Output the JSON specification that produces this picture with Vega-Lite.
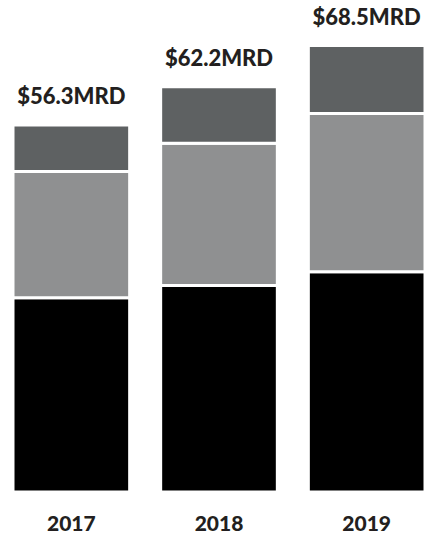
{
  "$schema": "https://vega.github.io/schema/vega-lite/v6.json",
  "autosize": "none",
  "padding": {"left": 13, "top": 0, "right": 0, "bottom": 41},
  "width": 412,
  "height": 492,
  "background": "white",
  "config": {"view": {"stroke": null}},
  "data": {
    "values": [
      {"year": "2017", "segment": "A", "value": 29.8},
      {"year": "2017", "segment": "B", "value": 19.4},
      {"year": "2017", "segment": "C", "value": 7.1},
      {"year": "2018", "segment": "A", "value": 31.7},
      {"year": "2018", "segment": "B", "value": 21.8},
      {"year": "2018", "segment": "C", "value": 8.7},
      {"year": "2019", "segment": "A", "value": 33.8},
      {"year": "2019", "segment": "B", "value": 24.3},
      {"year": "2019", "segment": "C", "value": 10.4}
    ]
  },
  "encoding": {
    "x": {
      "field": "year",
      "type": "nominal",
      "scale": {"paddingInner": 0.21, "paddingOuter": 0},
      "axis": {
        "title": null,
        "labelAngle": 0,
        "domain": false,
        "ticks": false,
        "labelBaseline": "middle",
        "labelPadding": 32,
        "labelFont": "Lato",
        "labelFontWeight": 900,
        "labelFontSize": 21,
        "labelColor": "#231f20"
      }
    }
  },
  "layer": [
    {
      "mark": {"type": "bar", "stroke": "white", "strokeWidth": 3},
      "encoding": {
        "y": {
          "field": "value",
          "type": "quantitative",
          "aggregate": "sum",
          "stack": "zero",
          "scale": {"domain": [0, 75.5], "nice": false},
          "axis": null
        },
        "color": {
          "field": "segment",
          "type": "nominal",
          "scale": {"domain": ["A", "B", "C"], "range": ["#000000", "#8f9091", "#5e6162"]},
          "legend": null
        },
        "order": {"field": "segment", "type": "ordinal", "sort": "ascending"}
      }
    },
    {
      "transform": [
        {"aggregate": [{"op": "sum", "field": "value", "as": "total"}], "groupby": ["year"]},
        {"calculate": "'$' + format(datum.total, '.1f') + 'MRD'", "as": "label"}
      ],
      "mark": {
        "type": "text",
        "baseline": "bottom",
        "dy": -16,
        "font": "Lato",
        "fontWeight": 900,
        "fontSize": 22,
        "color": "#231f20"
      },
      "encoding": {
        "y": {"field": "total", "type": "quantitative"},
        "text": {"field": "label"}
      }
    }
  ]
}
